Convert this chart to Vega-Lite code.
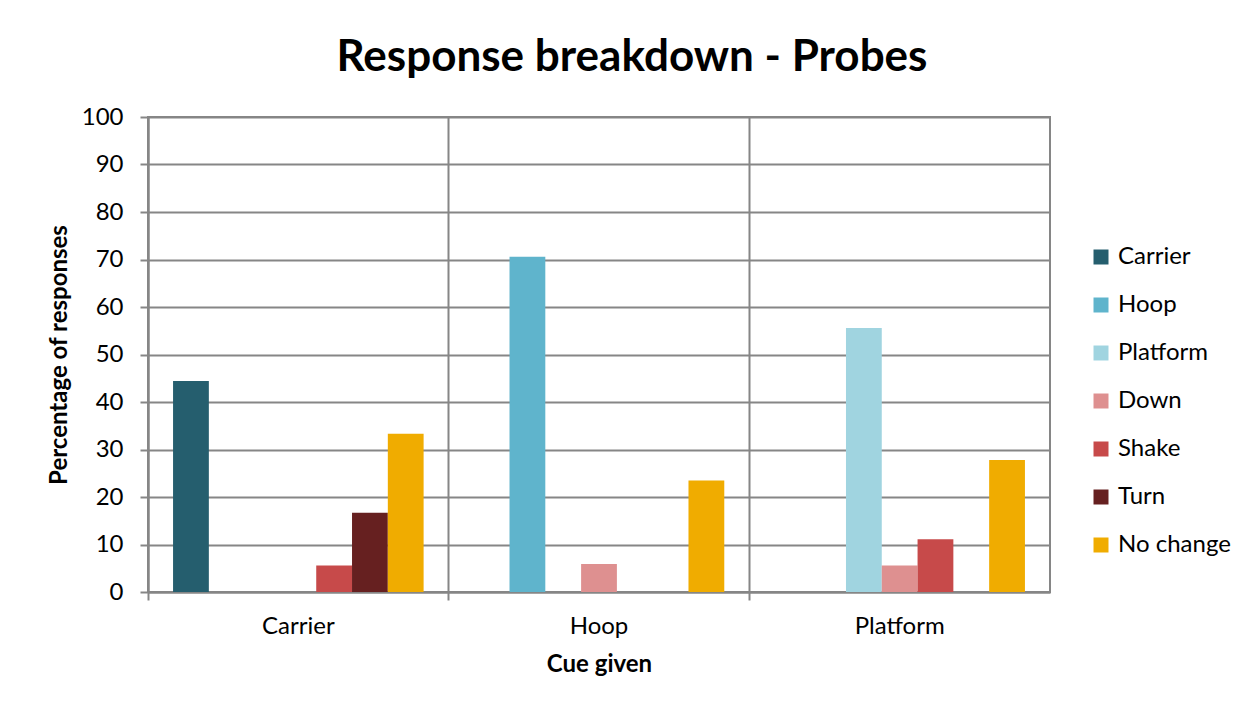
{
  "$schema": "https://vega.github.io/schema/vega-lite/v6.json",
  "width": 902,
  "height": 475,
  "autosize": {"type": "none"},
  "padding": {"left": 148, "top": 117, "right": 205, "bottom": 121},
  "background": "white",
  "title": {
    "text": "Response breakdown - Probes",
    "font": "Lato",
    "fontSize": 44,
    "fontWeight": "bold",
    "color": "#000000",
    "anchor": "middle",
    "dx": 33,
    "offset": 25
  },
  "data": {
    "values": [
      {"cue": "Carrier", "response": "Carrier", "pct": 44.4},
      {"cue": "Carrier", "response": "Shake", "pct": 5.6},
      {"cue": "Carrier", "response": "Turn", "pct": 16.7},
      {"cue": "Carrier", "response": "No change", "pct": 33.3},
      {"cue": "Hoop", "response": "Hoop", "pct": 70.6},
      {"cue": "Hoop", "response": "Down", "pct": 5.9},
      {"cue": "Hoop", "response": "No change", "pct": 23.5},
      {"cue": "Platform", "response": "Platform", "pct": 55.6},
      {"cue": "Platform", "response": "Down", "pct": 5.6},
      {"cue": "Platform", "response": "Shake", "pct": 11.1},
      {"cue": "Platform", "response": "No change", "pct": 27.8}
    ]
  },
  "mark": {"type": "bar"},
  "encoding": {
    "x": {
      "field": "cue",
      "type": "nominal",
      "sort": ["Carrier", "Hoop", "Platform"],
      "scale": {"paddingInner": 0, "paddingOuter": 0},
      "axis": {
        "title": "Cue given",
        "titleFont": "Lato",
        "titleFontSize": 24,
        "titleFontWeight": "bold",
        "titleColor": "#000000",
        "titlePadding": 14,
        "labelFont": "Lato",
        "labelFontSize": 24,
        "labelColor": "#000000",
        "labelAngle": 0,
        "labelPadding": 14,
        "bandPosition": 0,
        "grid": true,
        "gridColor": "#868686",
        "gridWidth": 2,
        "domainColor": "#868686",
        "domainWidth": 2,
        "tickColor": "#868686",
        "tickWidth": 2,
        "tickSize": 8
      }
    },
    "xOffset": {
      "field": "response",
      "type": "nominal",
      "scale": {
        "domain": ["Carrier", "Hoop", "Platform", "Down", "Shake", "Turn", "No change"],
        "paddingInner": 0,
        "paddingOuter": 0.7
      }
    },
    "y": {
      "field": "pct",
      "type": "quantitative",
      "scale": {"domain": [0, 100]},
      "axis": {
        "title": "Percentage of responses",
        "titleFont": "Lato",
        "titleFontSize": 24,
        "titleFontWeight": "bold",
        "titleColor": "#000000",
        "titlePadding": 10,
        "labelFont": "Lato",
        "labelFontSize": 24,
        "labelColor": "#000000",
        "labelPadding": 17,
        "values": [0, 10, 20, 30, 40, 50, 60, 70, 80, 90, 100],
        "grid": true,
        "gridColor": "#868686",
        "gridWidth": 2,
        "domainColor": "#868686",
        "domainWidth": 2,
        "tickColor": "#868686",
        "tickWidth": 2,
        "tickSize": 8
      }
    },
    "color": {
      "field": "response",
      "type": "nominal",
      "scale": {
        "domain": ["Carrier", "Hoop", "Platform", "Down", "Shake", "Turn", "No change"],
        "range": ["#255E6E", "#5FB4CC", "#A0D4E0", "#DE9090", "#C74A4A", "#662020", "#F0AC00"]
      },
      "legend": {
        "title": null,
        "orient": "none",
        "legendX": 941,
        "legendY": 128,
        "padding": 0,
        "symbolType": "square",
        "symbolSize": 225,
        "symbolStrokeWidth": 0,
        "symbolOpacity": 1,
        "labelFont": "Lato",
        "labelFontSize": 24,
        "labelColor": "#000000",
        "labelOffset": 5,
        "rowPadding": 24
      }
    }
  },
  "config": {
    "view": {"stroke": "#868686", "strokeWidth": 2}
  }
}
